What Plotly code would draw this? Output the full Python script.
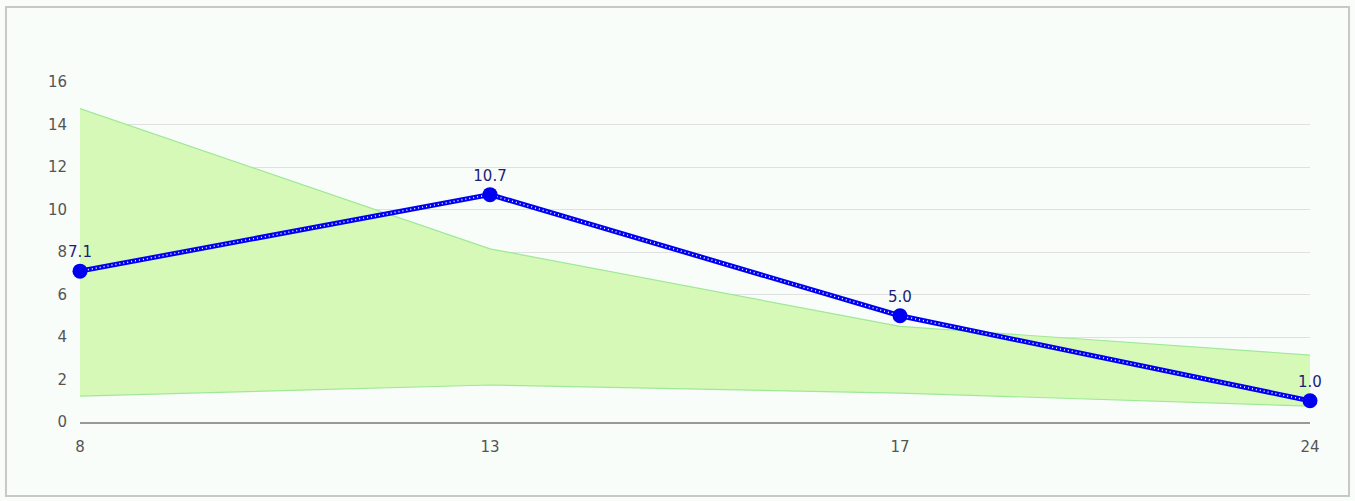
import plotly.graph_objects as go

categories = ["8", "13", "17", "24"]
line_values = [7.1, 10.7, 5.0, 1.0]
band_upper = [14.75, 8.15, 4.5, 3.15]
band_lower = [1.22, 1.74, 1.36, 0.75]
y_ticks = [0, 2, 4, 6, 8, 10, 12, 14, 16]

fig = go.Figure()
fig.add_trace(go.Scatter(
    x=categories, y=band_lower, mode="lines",
    line=dict(color="#9fe898", width=1.2), hoverinfo="skip", showlegend=False))
fig.add_trace(go.Scatter(
    x=categories, y=band_upper, mode="lines", fill="tonexty",
    fillcolor="#d7f9b7", line=dict(color="#9fe898", width=1.2),
    hoverinfo="skip", showlegend=False))
fig.add_trace(go.Scatter(
    x=categories, y=line_values, mode="lines",
    line=dict(color="#0000f0", width=5),
    hoverinfo="skip", showlegend=False))
fig.add_trace(go.Scatter(
    x=categories, y=line_values, mode="lines",
    line=dict(color="#ffffff", width=1.5, dash="1px,3px"),
    hoverinfo="skip", showlegend=False))
fig.add_trace(go.Scatter(
    x=categories, y=line_values, mode="markers+text",
    marker=dict(color="#0000f0", size=15),
    text=[f"{v:.1f}" for v in line_values], textposition="top center",
    textfont=dict(family="DejaVu Sans", size=15, color="#1c1c7a"),
    showlegend=False, cliponaxis=False))

fig.update_layout(
    width=1355, height=501,
    margin=dict(l=80, r=45, t=82, b=79),
    paper_bgcolor="#f8fdfa", plot_bgcolor="#f8fdfa",
    font=dict(family="DejaVu Sans", size=15, color="#555555"),
    xaxis=dict(type="category", range=[0, 3], showgrid=False,
               showline=True, linecolor="#999999", linewidth=1.5,
               ticks="", zeroline=False, fixedrange=True,
               ticklabelstandoff=10),
    yaxis=dict(range=[0, 16], tickvals=y_ticks, showgrid=True,
               gridcolor="#e0e0e0", gridwidth=1, zeroline=False,
               ticks="", ticklabelstandoff=12, fixedrange=True),
    shapes=[dict(type="rect", xref="paper", yref="paper",
                 x0=-0.0602, x1=1.0317, y0=-0.2176, y1=1.2206,
                 line=dict(color="#c8c8c8", width=2), layer="below")],
)
fig.write_html("out.html", config={"displayModeBar": False},
               post_script="document.body.style.margin='0';")
